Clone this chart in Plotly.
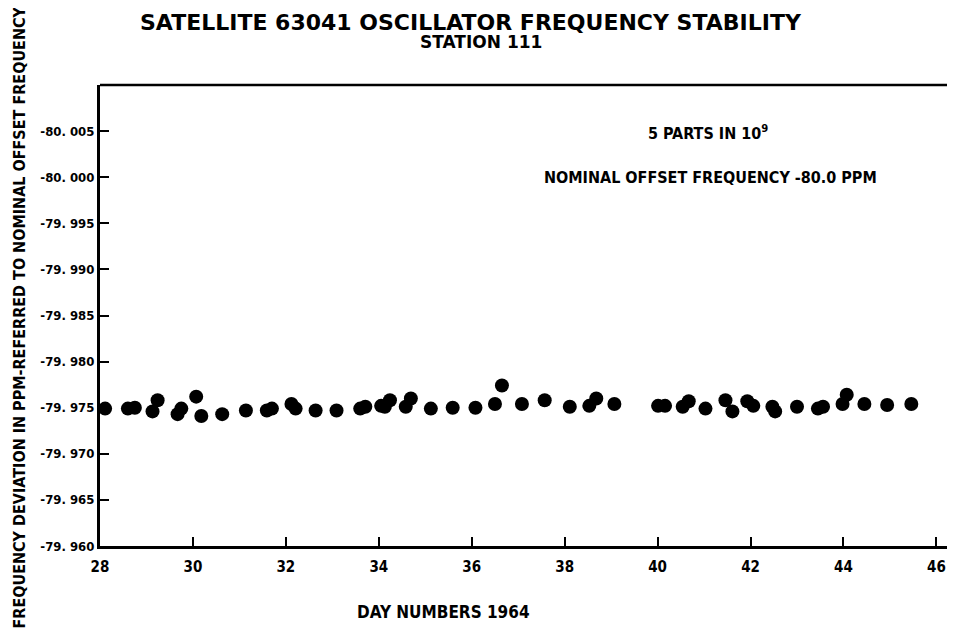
import plotly.graph_objects as go

days = [28.11, 28.60, 28.75, 29.13, 29.24, 29.67, 29.75, 30.07, 30.18, 30.63,
        31.14, 31.59, 31.70, 32.12, 32.21, 32.64, 33.09, 33.60, 33.71, 34.05,
        34.13, 34.24, 34.58, 34.69, 35.12, 35.59, 36.08, 36.50, 36.65, 37.08,
        37.57, 38.11, 38.53, 38.68, 39.07, 40.01, 40.16, 40.54, 40.67, 41.03,
        41.46, 41.61, 41.93, 42.06, 42.47, 42.53, 43.00, 43.45, 43.56, 43.98,
        44.07, 44.45, 44.94, 45.46]
freq_ppm = [-79.9749, -79.9749, -79.9750, -79.9746, -79.9758, -79.9743, -79.9749, -79.9762, -79.9741, -79.9743,
            -79.9747, -79.9747, -79.9749, -79.9754, -79.9749, -79.9747, -79.9747, -79.9749, -79.9751, -79.9752,
            -79.9751, -79.9758, -79.9751, -79.9760, -79.9749, -79.9750, -79.9750, -79.9754, -79.9774, -79.9754,
            -79.9758, -79.9751, -79.9752, -79.9760, -79.9754, -79.9752, -79.9752, -79.9751, -79.9757, -79.9749,
            -79.9758, -79.9746, -79.9757, -79.9752, -79.9751, -79.9746, -79.9751, -79.9749, -79.9751, -79.9754,
            -79.9764, -79.9754, -79.9753, -79.9754]

y_tickvals = [-80.005, -80.000, -79.995, -79.990, -79.985, -79.980, -79.975, -79.970, -79.965, -79.960]
y_ticktext = ["-80. 005", "-80. 000", "-79. 995", "-79. 990", "-79. 985", "-79. 980",
              "-79. 975", "-79. 970", "-79. 965", "-79. 960"]
x_tickvals = [28, 30, 32, 34, 36, 38, 40, 42, 44, 46]
x_ticktext = ["28", "30", "32", "34", "36", "38", "40", "42", "44", "46"]

COND = "DejaVu Sans Condensed, Liberation Sans Narrow, DejaVu Sans, sans-serif"
WIDE = "DejaVu Sans, Verdana, sans-serif"

# page has an 8px body margin; figure sized so the plot fills the window
OFF = 8
W, H = 955 - OFF, 635 - OFF
L, T, B = 100 - OFF, 85 - OFF, 635 - 546
PW, PH = W - L, H - T - B


def px_x(p):
    return (p - OFF - L) / PW


def px_y(p):
    return (H - B - (p - OFF)) / PH


fig = go.Figure()
fig.add_trace(go.Scatter(
    x=days, y=freq_ppm, mode="markers",
    marker=dict(color="black", size=14, line=dict(width=0)),
    showlegend=False, hoverinfo="x+y",
))

fig.update_layout(
    width=W, height=H,
    margin=dict(l=L, r=0, t=T, b=B, autoexpand=False),
    paper_bgcolor="white", plot_bgcolor="white",
    font=dict(family=COND, color="black", size=13),
    xaxis=dict(
        range=[28, 46.4], tickvals=x_tickvals, ticktext=["<b>%s</b>" % t for t in x_ticktext],
        ticks="inside", ticklen=9, tickwidth=2, tickcolor="black",
        showline=True, linewidth=3, linecolor="black", mirror=False,
        showgrid=False, zeroline=False, automargin=False, ticklabelstandoff=5,
        tickfont=dict(family=COND, size=15, color="black"),
    ),
    yaxis=dict(
        range=[-79.960, -80.010], tickvals=y_tickvals, ticktext=["<b>%s</b>" % t for t in y_ticktext],
        ticks="inside", ticklen=9, tickwidth=2, tickcolor="black",
        showline=True, linewidth=3, linecolor="black",
        showgrid=False, zeroline=False, automargin=False,
        tickfont=dict(family=COND, size=13, color="black"),
    ),
    shapes=[dict(type="line", xref="x", yref="paper", x0=28, x1=46.4, y0=1, y1=1,
                 line=dict(color="black", width=2.5))],
    annotations=[
        dict(text="<b>SATELLITE 63041 OSCILLATOR FREQUENCY STABILITY</b>",
             xref="paper", yref="paper", x=px_x(471), y=px_y(23),
             xanchor="center", yanchor="middle", showarrow=False,
             font=dict(family=WIDE, size=22, color="black")),
        dict(text="<b>STATION 111</b>",
             xref="paper", yref="paper", x=px_x(481), y=px_y(42),
             xanchor="center", yanchor="middle", showarrow=False,
             font=dict(family=WIDE, size=17, color="black")),
        dict(text="<b>FREQUENCY DEVIATION IN PPM-REFERRED TO NOMINAL OFFSET FREQUENCY</b>",
             xref="paper", yref="paper", x=px_x(OFF), y=px_y(318), textangle=-90,
             xanchor="left", yanchor="middle", showarrow=False, borderpad=0,
             font=dict(family=COND, size=16, color="black")),
        dict(text="<b>DAY NUMBERS 1964</b>", xref="paper", yref="paper",
             x=px_x(443), y=px_y(612), xanchor="center", yanchor="middle",
             showarrow=False, font=dict(family=COND, size=17, color="black")),
        dict(text="<b>5 PARTS IN 10<sup>9</sup></b>", xref="x", yref="y",
             x=39.75, y=-80.0048, xanchor="left", yanchor="middle",
             showarrow=False, font=dict(family=COND, size=16, color="black")),
        dict(text="<b>NOMINAL OFFSET FREQUENCY -80.0 PPM</b>", xref="x", yref="y",
             x=37.52, y=-80.0000, xanchor="left", yanchor="middle",
             showarrow=False, font=dict(family=COND, size=16, color="black")),
    ],
)

fig.write_html("out.html")
